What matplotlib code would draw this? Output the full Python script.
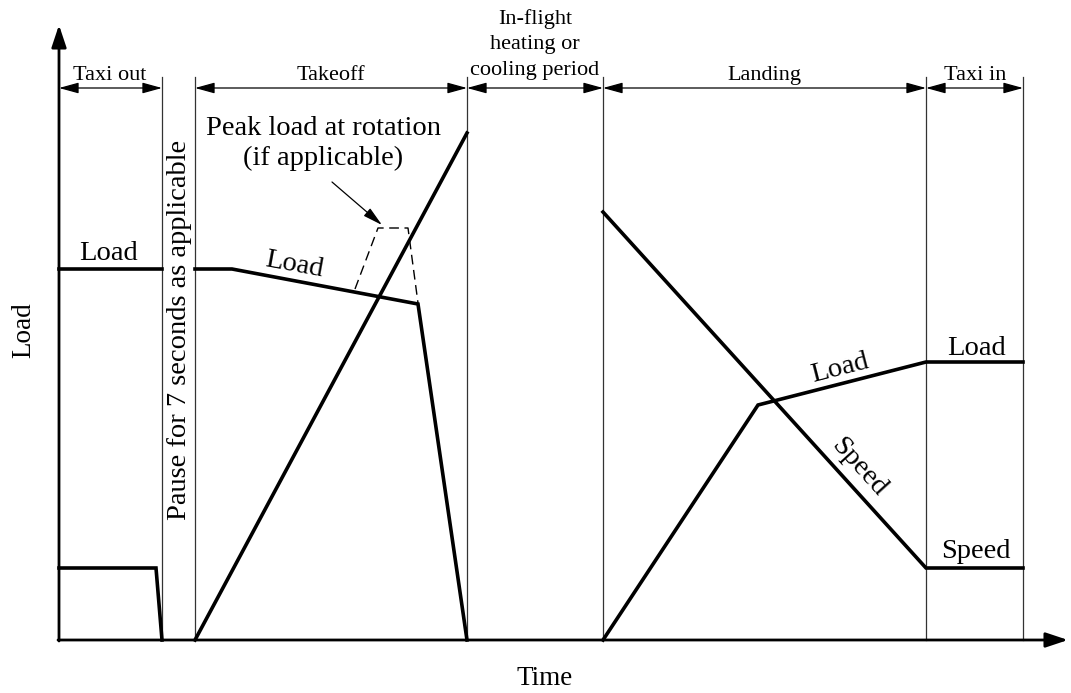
"""
Schematic of a test cycle: load and speed through taxi out, takeoff,
in-flight period, landing and taxi in.
"""
import matplotlib
matplotlib.use("Agg")
import matplotlib.pyplot as plt

FONT = "Liberation Serif"

# phase boundaries on the time axis (arbitrary units)
PHASE_EDGES = [0, 10.3, 13.6, 40.8, 54.4, 86.7, 96.4]
PHASE_SPANS = [(0, 10.3), (13.6, 40.8), (40.8, 54.4), (54.4, 86.7), (86.7, 96.4)]
PHASE_LABELS = ["Taxi out", "Takeoff", "", "Landing", "Taxi in"]
PHASE_LABEL_X = [5.1, 27.2, 47.6, 70.5, 91.6]
INFLIGHT_LINES = ["In-flight", "heating or", "cooling period"]

# taxi out
taxi_out_t = [0, 9.7, 10.3]
taxi_out_speed = [7.2, 7.2, 0]
taxi_out_load_t = [0, 10.3]
taxi_out_load = [37.1, 37.1]

# takeoff
takeoff_load_t = [13.6, 17.3, 35.9, 40.8]
takeoff_load = [37.1, 37.1, 33.6, 0]
takeoff_speed_t = [13.6, 40.8]
takeoff_speed = [0, 50.7]
peak_t = [29.6, 31.9, 34.9, 35.9]
peak_load = [35.1, 41.2, 41.2, 33.7]

# landing + taxi in
landing_speed_t = [54.4, 86.7, 96.4]
landing_speed = [42.8, 7.2, 7.2]
landing_load_t = [54.4, 69.9, 86.7, 96.4]
landing_load = [0, 23.5, 27.8, 27.8]


def main():
    fig = plt.figure(figsize=(10.71, 6.93), dpi=100)
    ax = fig.add_axes([0, 0, 1, 1])
    ax.set_xlim(-5.9, 101.2)
    ax.set_ylim(-5.3, 64.0)
    ax.axis("off")

    # axes with arrow heads
    axis_style = dict(arrowstyle="-|>,head_length=0.9,head_width=0.3",
                      color="black", lw=2.0, mutation_scale=15, shrinkA=0, shrinkB=0)
    ax.annotate("", xy=(0, 61.5), xytext=(0, -0.1), arrowprops=axis_style)
    ax.annotate("", xy=(100.9, 0), xytext=(-0.1, 0), arrowprops=axis_style)

    # phase boundaries
    for x in PHASE_EDGES[1:]:
        ax.plot([x, x], [0, 56.3], color="#333333", lw=0.9)

    # dimension arrows and phase names
    dim_style = dict(arrowstyle="<|-|>,head_length=0.8,head_width=0.22",
                     color="black", lw=0.9, mutation_scale=15, shrinkA=0, shrinkB=0)
    for (a, b), name, lx in zip(PHASE_SPANS, PHASE_LABELS, PHASE_LABEL_X):
        ax.annotate("", xy=(b, 55.2), xytext=(a, 55.2), arrowprops=dim_style)
        if name:
            ax.text(lx, 56.0, name, ha="center", va="baseline", fontsize=16, family=FONT)
    for i, line in enumerate(INFLIGHT_LINES):
        ax.text(PHASE_LABEL_X[2], 61.6 - 2.55 * i, line, ha="center", va="baseline",
                fontsize=16, family=FONT)

    # curves
    thick = dict(color="black", lw=2.6, solid_joinstyle="miter")
    ax.plot(taxi_out_t, taxi_out_speed, **thick)
    ax.plot(taxi_out_load_t, taxi_out_load, **thick)
    ax.plot(takeoff_load_t, takeoff_load, **thick)
    ax.plot(takeoff_speed_t, takeoff_speed, **thick)
    ax.plot(landing_speed_t, landing_speed, **thick)
    ax.plot(landing_load_t, landing_load, **thick)
    ax.plot(peak_t, peak_load, color="black", lw=1.0, dashes=(7, 4))

    # labels
    big = dict(fontsize=20.5, family=FONT)
    ax.text(5.0, 38.0, "Load", ha="center", va="baseline", **big)
    ax.text(23.5, 37.5, "Load", ha="center", va="center", rotation=-10.4, **big)
    ax.text(78.1, 27.2, "Load", ha="center", va="center", rotation=14.4, **big)
    ax.text(80.0, 17.3, "Speed", ha="center", va="center", rotation=-47.8, **big)
    ax.text(91.8, 28.5, "Load", ha="center", va="baseline", **big)
    ax.text(91.7, 8.2, "Speed", ha="center", va="baseline", **big)
    ax.text(26.4, 50.5, "Peak load at rotation", ha="center", va="baseline", **big)
    ax.text(26.4, 47.5, "(if applicable)", ha="center", va="baseline", **big)
    ax.text(12.1, 31.0, "Pause for 7 seconds as applicable", ha="center", va="center",
            rotation=90, **big)
    ax.annotate("", xy=(32.3, 41.5), xytext=(27.3, 45.8),
                arrowprops=dict(arrowstyle="-|>,head_length=0.8,head_width=0.2",
                                color="black", lw=0.9, mutation_scale=15,
                                shrinkA=0, shrinkB=0))

    # axis titles
    ax.text(48.6, -4.5, "Time", ha="center", va="baseline", fontsize=19.5, family=FONT)
    ax.text(-3.55, 31.0, "Load", ha="center", va="center", rotation=90,
            fontsize=19.5, family=FONT)

    fig.savefig("out.png", dpi=100, facecolor="white")
    plt.close(fig)


if __name__ == "__main__":
    main()
